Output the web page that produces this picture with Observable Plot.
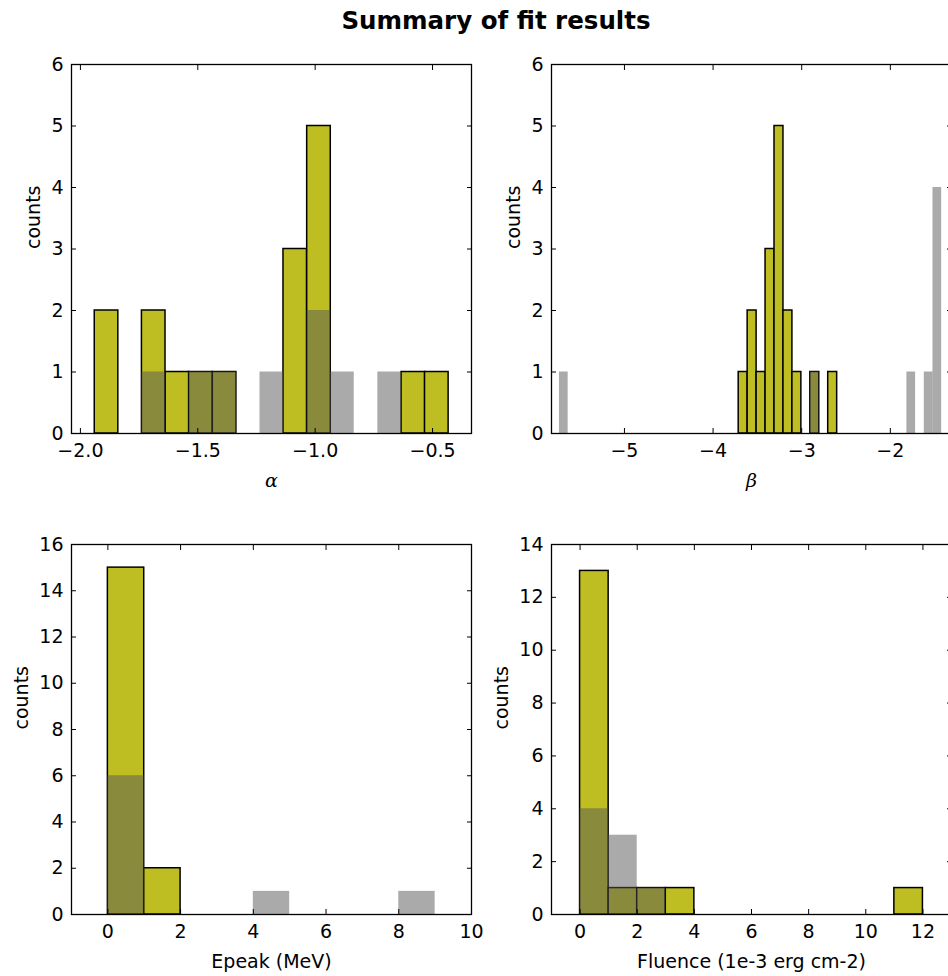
<!DOCTYPE html>
<html>
<head>
<meta charset="utf-8">
<script src="https://cdn.jsdelivr.net/npm/d3@7"></script>
<script src="https://cdn.jsdelivr.net/npm/@observablehq/plot@0.6"></script>
<style>
  html, body { margin: 0; padding: 0; background: #fff; }
  #fig { position: relative; width: 948px; height: 976px; overflow: hidden; background: #fff; }
  #title { position: absolute; left: 0; top: 9px; width: 992px; text-align: center;
           font: bold 24.5px/24px "DejaVu Sans", sans-serif; color: #000; }
  .panel { position: absolute; width: 480px; }
</style>
</head>
<body>
<div id="fig"><div id="title">Summary of fit results</div></div>
<script>
// ---- α : shared bins (lower edges), counts of the two samples ----
const alphaBins   = [-1.939, -1.839, -1.738, -1.637, -1.537, -1.436, -1.336, -1.235, -1.135, -1.034, -0.934, -0.833, -0.733, -0.632, -0.532];
const alphaWidth  = 0.1005;
const alphaCountsA = [2, 0, 2, 1, 1, 1, 0, 0, 3, 5, 0, 0, 0, 1, 1];
const alphaCountsB = [0, 0, 1, 0, 1, 1, 0, 1, 0, 2, 1, 0, 1, 0, 0];
const alphaTicks  = [-2.0, -1.5, -1.0, -0.5];

// ---- β : each sample has its own binning ----
const betaBinsA    = [-3.711, -3.610, -3.509, -3.408, -3.307, -3.206, -3.105, -3.004, -2.903, -2.802, -2.701];
const betaWidthA   = 0.101;
const betaCountsA  = [1, 2, 1, 3, 5, 2, 1, 0, 1, 0, 1];
const betaBinsB    = [-5.733, -2.903, -1.813, -1.617, -1.519];
const betaWidthB   = 0.098;
const betaCountsB  = [1, 1, 1, 1, 4];
const betaTicks    = [-5, -4, -3, -2];

// ---- Epeak (MeV) ----
const epeakBinsA   = [0, 1];
const epeakCountsA = [15, 2];
const epeakBinsB   = [0, 4, 8];
const epeakCountsB = [6, 1, 1];
const epeakTicks   = [0, 2, 4, 6, 8, 10];

// ---- Fluence (1e-3 erg cm-2) ----
const fluenceBinsA   = [0, 1, 2, 3, 11];
const fluenceCountsA = [13, 1, 1, 1, 1];
const fluenceBinsB   = [0, 1, 2];
const fluenceCountsB = [4, 3, 1];
const fluenceTicks   = [0, 2, 4, 6, 8, 10, 12];

const bars = (lo, n, w) => lo.map((x, i) => ({lo: x, hi: x + w, n: n[i]})).filter(d => d.n > 0);
const intFmt = d3.format("d");

function panel(o) {
  const svg = Plot.plot({
    width: 480,
    height: o.height,
    marginLeft: 71, marginRight: 9, marginTop: 64, marginBottom: o.marginBottom,
    style: {fontFamily: "DejaVu Sans, sans-serif", fontSize: "19px", color: "#000",
            background: "transparent", overflow: "visible", maxWidth: "none"},
    x: {domain: o.xDomain, label: null},
    y: {domain: [0, o.yMax], label: null},
    marks: [
      Plot.rect(o.a, {x1: "lo", x2: "hi", y1: 0, y2: "n", fill: "#bebe22", stroke: "#000", strokeWidth: 1.5}),
      Plot.rect(o.b, {x1: "lo", x2: "hi", y1: 0, y2: "n", fill: "#555555", fillOpacity: 0.5}),
      Plot.axisX(o.xTicks, {anchor: "bottom", tickSize: 0, tickPadding: 10, tickFormat: o.xFormat, label: null}),
      Plot.axisX(o.xTicks, {anchor: "bottom", tickSize: -5, fill: "none", label: null}),
      Plot.axisX(o.xTicks, {anchor: "top", tickSize: -5, fill: "none", label: null}),
      Plot.axisY(o.yTicks, {anchor: "left", tickSize: 0, tickPadding: 8, tickFormat: intFmt, label: null}),
      Plot.axisY(o.yTicks, {anchor: "left", tickSize: -5, fill: "none", label: null}),
      Plot.axisY(o.yTicks, {anchor: "right", tickSize: -5, fill: "none", label: null}),
      Plot.frame({stroke: "#000", strokeWidth: 1.3}),
      Plot.text([o.xLabel], {frameAnchor: "bottom", dy: 47, lineAnchor: "middle", fill: "#000",
                             fontFamily: o.xLabelFont || "DejaVu Sans, sans-serif",
                             fontStyle: o.xLabelStyle || "normal"}),
      Plot.text(["counts"], {frameAnchor: "left", dx: -o.yLabelGap, rotate: -90, lineAnchor: "middle", fill: "#000"})
    ]
  });
  const div = document.createElement("div");
  div.className = "panel";
  div.style.left = o.left + "px";
  div.style.top = o.top + "px";
  div.appendChild(svg);
  document.getElementById("fig").appendChild(div);
}

const seq = (a, b) => d3.range(a, b + 1);

panel({
  left: 0, top: 0, height: 480, marginBottom: 47,
  a: bars(alphaBins, alphaCountsA, alphaWidth),
  b: bars(alphaBins, alphaCountsB, alphaWidth),
  xDomain: [-2.038, -0.334], yMax: 6,
  xTicks: alphaTicks, xFormat: d3.format(".1f"), yTicks: seq(0, 6),
  xLabel: "α", xLabelFont: "DejaVu Serif, serif", xLabelStyle: "italic", yLabelGap: 38
});

panel({
  left: 480, top: 0, height: 480, marginBottom: 47,
  a: bars(betaBinsA, betaCountsA, betaWidthA),
  b: bars(betaBinsB, betaCountsB, betaWidthB),
  xDomain: [-5.823, -1.31], yMax: 6,
  xTicks: betaTicks, xFormat: intFmt, yTicks: seq(0, 6),
  xLabel: "β", xLabelFont: "DejaVu Serif, serif", xLabelStyle: "italic", yLabelGap: 38
});

panel({
  left: 0, top: 480, height: 496, marginBottom: 62,
  a: bars(epeakBinsA, epeakCountsA, 1),
  b: bars(epeakBinsB, epeakCountsB, 1),
  xDomain: [-1, 10], yMax: 16,
  xTicks: epeakTicks, xFormat: intFmt, yTicks: d3.range(0, 17, 2),
  xLabel: "Epeak (MeV)", yLabelGap: 50
});

panel({
  left: 480, top: 480, height: 496, marginBottom: 62,
  a: bars(fluenceBinsA, fluenceCountsA, 1),
  b: bars(fluenceBinsB, fluenceCountsB, 1),
  xDomain: [-1, 13], yMax: 14,
  xTicks: fluenceTicks, xFormat: intFmt, yTicks: d3.range(0, 15, 2),
  xLabel: "Fluence (1e-3 erg cm-2)", yLabelGap: 50
});
</script>
</body>
</html>
